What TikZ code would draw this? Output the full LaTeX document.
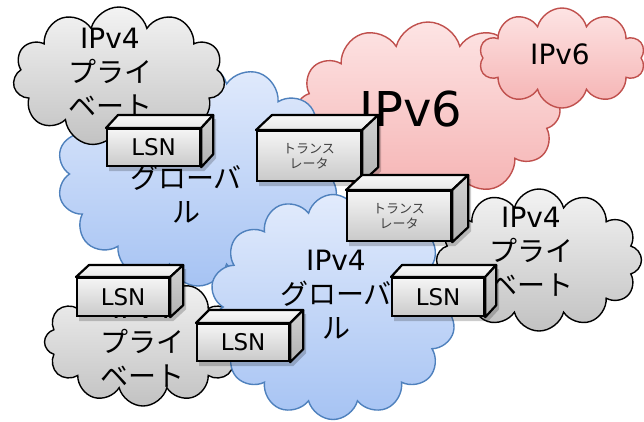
\documentclass[tikz,border=0pt]{standalone}
\usepackage{fontspec}
\setmainfont{DejaVu Sans}
\newfontfamily\jpfont{Noto Sans CJK JP}
\usetikzlibrary{shapes.symbols}

\definecolor{bluerim}{HTML}{4F81BD}
\definecolor{bluetop}{HTML}{E2EBFC}
\definecolor{bluebot}{HTML}{A6C3F3}
\definecolor{pinkrim}{HTML}{C0504D}
\definecolor{pinktop}{HTML}{FDE4E4}
\definecolor{pinkbot}{HTML}{F5B2B2}
\definecolor{graytop}{HTML}{F3F3F3}
\definecolor{graybot}{HTML}{C2C2C2}

\pgfdeclarelayer{shade}
\pgfdeclarelayer{boxes}
\pgfsetlayers{main,shade,boxes}

\tikzset{
  graycloud/.style={cloud, cloud puffs=12, draw=black, line width=1.4pt, top color=graytop, bottom color=graybot},
  bluecloud/.style={cloud, cloud puffs=14, draw=bluerim, line width=1.4pt, top color=bluetop, bottom color=bluebot},
  pinkcloud/.style={cloud, cloud puffs=12, draw=pinkrim, line width=1.4pt, top color=pinktop, bottom color=pinkbot},
  cloudtext/.style={align=center, inner sep=0pt, font=\fontsize{28}{34}\selectfont},
  frontface/.style={rectangle, anchor=north west, inner sep=0pt, draw=black, line width=2.2pt, top color=gray!8, bottom color=gray!42},
  topface/.style={draw=black, line width=2.2pt, line join=round, top color=gray!5, bottom color=gray!18},
  sideface/.style={draw=black, line width=2.2pt, line join=round, top color=gray!35, bottom color=gray!62},
  boxshade/.style={fill=black, opacity=0.2},
  lsntext/.style={font=\fontsize{23}{27}\selectfont},
  transtext/.style={align=center, text=black!75, font=\jpfont\fontsize{13}{15}\selectfont}
}

% front face as a node, top and right faces and shadow from its anchors
\newcommand{\netbox}[8]{%
  \begin{pgfonlayer}{boxes}
    \node[frontface, #7, minimum width=#3pt, minimum height=#4pt] (#1) at (#2) {#8};
    \draw[topface] (#1.north west) -- ++(#5,#6) -- ([shift={(#5,#6)}]#1.north east) -- (#1.north east) -- cycle;
    \draw[sideface] (#1.north east) -- ([shift={(#5,#6)}]#1.north east) -- ([shift={(#5,#6)}]#1.south east) -- (#1.south east) -- cycle;
  \end{pgfonlayer}
  \begin{pgfonlayer}{shade}
    \fill[boxshade] ([shift={(3,4)}]#1.south west) -- ([shift={(3,4)}]#1.north west)
      -- ([shift={(#5+3,#6+4)}]#1.north east) -- ([shift={(#5+3,#6+4)}]#1.south east)
      -- ([shift={(3,4)}]#1.south east) -- cycle;
  \end{pgfonlayer}}

\begin{document}
\begin{tikzpicture}[x=1pt,y=-1pt]
	\clip (0,0) rectangle (644,421);
	\fill[white] (0,0) rectangle (644,421);

	% make the clouds, from back to front
	\node[pinkcloud, minimum width=264pt, minimum height=178pt] (v6big) at (428,111) {};
	\node[cloudtext, font=\fontsize{48}{56}\selectfont] (v6big-text) at (411,109) {IPv6};

	\node[bluecloud, minimum width=282pt, minimum height=224pt] (globA) at (198,174) {};
	\node[cloudtext] (globA-text) at (186,179) {IPv4\\{\jpfont グローバ}\\{\jpfont ル}};

	\node[graycloud, cloud puffs=11, minimum width=212pt, minimum height=140pt] (privA) at (119,77) {};
	\node[cloudtext] (privA-text) at (110,73) {IPv4\\{\jpfont プライ}\\{\jpfont ベート}};

	\node[pinkcloud, cloud puffs=10, minimum width=166pt, minimum height=100pt] (v6small) at (562,58) {};
	\node[cloudtext] (v6small-text) at (560,54) {IPv6};

	\node[graycloud, minimum width=197pt, minimum height=128pt] (privB) at (143,342) {};
	\node[cloudtext] (privB-text) at (142,343) {IPv4\\{\jpfont プライ}\\{\jpfont ベート}};

	\node[bluecloud, minimum width=247pt, minimum height=225pt] (globB) at (333,307) {};
	\node[cloudtext] (globB-text) at (336,295) {IPv4\\{\jpfont グローバ}\\{\jpfont ル}};

	\node[graycloud, minimum width=205pt, minimum height=142pt] (privC) at (539,260) {};
	\node[cloudtext] (privC-text) at (531,252) {IPv4\\{\jpfont プライ}\\{\jpfont ベート}};

	% make the boxes: name, corner, width, height, depth, text
	\netbox{lsnA}{106,128}{93}{37}{12}{-13}{lsntext}{LSN}
	\netbox{transA}{256,130}{104}{50}{16}{-15}{transtext}{トランス\\レータ}
	\netbox{transB}{346,190}{104}{50}{16}{-15}{transtext}{トランス\\レータ}
	\netbox{lsnB}{391,277}{92}{38}{11}{-12}{lsntext}{LSN}
	\netbox{lsnC}{76,277}{92}{38}{13}{-12}{lsntext}{LSN}
	\netbox{lsnD}{196,323}{92}{37}{13}{-13}{lsntext}{LSN}
\end{tikzpicture}
\end{document}
